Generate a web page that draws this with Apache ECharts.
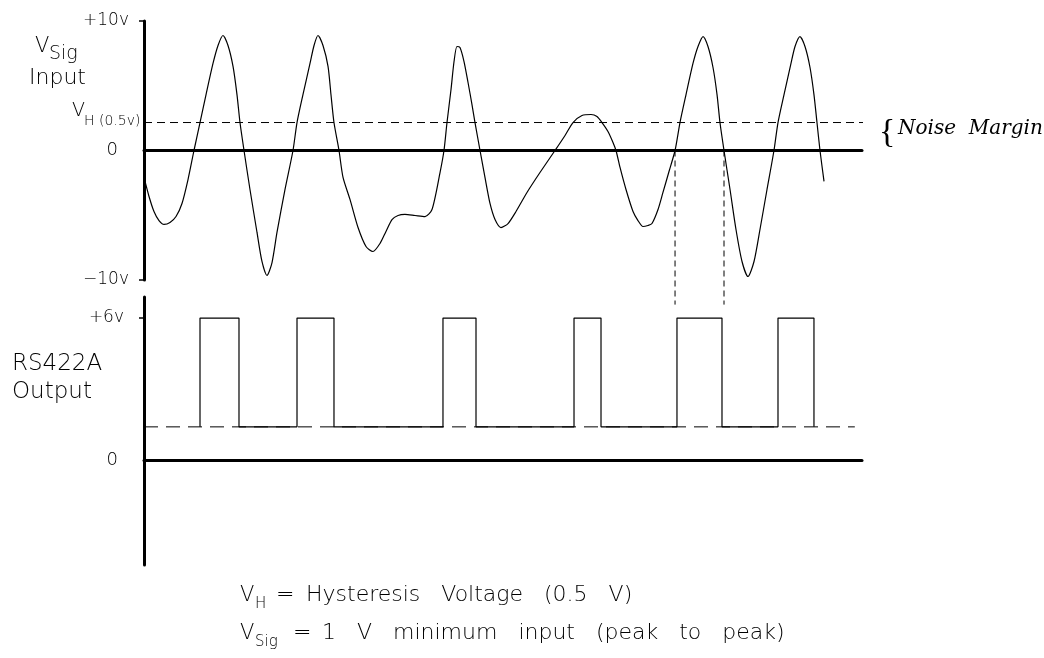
<!DOCTYPE html>
<html>
<head>
<meta charset="utf-8">
<script src="https://cdn.jsdelivr.net/npm/echarts@6/dist/echarts.min.js"></script>
<style>
html, body { margin: 0; width: 100%; height: 100%; background: #fff; }
#myChart { width: 1044px; height: 658px; }
</style>
</head>
<body>
<div id="myChart"></div>
<script>
// input signal (time 0..100, volts on the -10..+10 scale)
const inX = [0, 0.70, 1.39, 2.09, 2.79, 3.62, 4.46, 5.29, 6.13, 6.96,
  7.80, 8.64, 9.61, 10.31, 11.00, 11.70, 12.40, 12.95, 13.37, 13.93,
  14.76, 15.74, 16.43, 17.13, 17.83, 18.52, 19.64, 20.75,
  21.31, 22.14, 23.12, 23.68, 24.23, 24.93, 25.63, 26.04, 26.46, 27.16,
  27.72, 28.69, 29.81, 30.92, 31.89, 32.87, 33.70, 34.54, 35.38, 36.35, 37.74, 39.14, 40.11, 41.23, 41.78,
  42.20, 42.76, 43.18, 43.59, 44.01, 44.57, 45.13, 45.68, 46.10, 46.80,
  47.49, 48.19, 48.89, 49.72, 50.70, 51.81, 53.34, 55.15, 57.24,
  58.64, 59.75, 61.00, 62.26, 63.09, 63.79, 64.62, 65.32, 65.74,
  66.30, 67.13, 68.11, 68.80, 69.50, 70.19, 70.75, 71.59, 72.28, 73.12, 73.96,
  74.65, 75.49, 76.46, 77.16, 77.86, 78.55, 79.25, 79.81, 80.22, 80.78,
  81.62, 82.45, 83.29, 84.12, 84.96, 85.79, 86.77, 87.74,
  88.30, 89.14, 90.11, 90.67, 91.36, 92.06, 92.76, 93.31, 93.73, 94.15, 94.71];
const inY = [-2.08, -3.55, -4.71, -5.41, -5.71, -5.56, -5.10, -4.09, -2.24, 0,
  2.16, 4.32, 6.72, 8.11, 8.88, 8.11, 6.49, 4.32, 2.16, 0,
  -3.01, -6.33, -8.57, -9.65, -8.65, -6.33, -3.01, 0,
  2.16, 4.32, 6.72, 8.11, 8.88, 8.11, 6.49, 4.32, 2.16, 0,
  -2.08, -3.78, -5.95, -7.41, -7.80, -7.18, -6.25, -5.33, -5.02, -4.94, -5.02, -5.10, -4.56, -1.70, 0,
  2.16, 4.71, 6.87, 8.03, 7.95, 6.87, 5.25, 3.55, 2.16, 0,
  -2.08, -4.09, -5.33, -5.95, -5.64, -4.71, -3.24, -1.70, 0,
  1.16, 2.16, 2.70, 2.78, 2.63, 2.16, 1.47, 0.62, 0,
  -1.31, -3.01, -4.71, -5.41, -5.87, -5.79, -5.64, -4.56, -3.24, -1.62, 0,
  2.16, 4.32, 6.72, 8.03, 8.80, 8.03, 6.41, 4.32, 2.16, 0,
  -3.01, -6.10, -8.57, -9.73, -8.57, -6.10, -3.01, 0,
  2.16, 4.32, 6.72, 8.03, 8.80, 8.03, 6.41, 4.32, 2.16, 0, -2.39];

const vhLevel = 2.16;          // hysteresis threshold line
const markX = [73.96, 80.78];  // dashed guides from input to output
const markBottom = -11.9;

// RS422A output pulses
const pulseRise = [7.80, 21.31, 41.64, 59.89, 74.23, 88.30];
const pulseFall = [13.23, 26.46, 46.24, 63.65, 80.50, 93.31];
const outHigh = 6;
const outLow = 1.4;
const outDashEnd = 99.0;

// tick labels
const inTickVals = [-10, 0, 10];
const inTickText = ['−10v', '0', '+10v'];
const outTickVals = [0, 6];
const outTickText = ['0', '+6v'];

const FONT = 'DejaVu Sans';
const FW = 200;

const inputData = inX.map((x, i) => [x, inY[i]]);
const outputData = [];
pulseRise.forEach((r, i) => {
  outputData.push([r, outLow], [r, outHigh], [pulseFall[i], outHigh], [pulseFall[i], outLow]);
});

const tickFmt = (vals, texts) => (v) => {
  const t = texts[vals.indexOf(Math.round(v))];
  if (t === '0') return '{z|0}';
  if (t === '+6v') return '{s|+6v}';
  return '{a|' + t + '}';
};
const labelRich = {
  a: { fontSize: 17, fontFamily: FONT, fontWeight: FW, color: '#000' },
  z: { fontSize: 18, fontFamily: FONT, fontWeight: FW, color: '#000', padding: [0, 11, 0, 0] },
  s: { fontSize: 17, fontFamily: FONT, fontWeight: FW, color: '#000', padding: [0, 5, 0, 0] }
};

const txt = (x, y, text, size, extra) => ({
  type: 'text', left: x, top: y,
  style: Object.assign({ text: text, fontSize: size, fontFamily: FONT, fontWeight: FW, fill: '#000' }, extra || {})
});

const option = {
  backgroundColor: '#fff',
  animation: false,
  grid: [
    { left: 144, top: 21, width: 718, height: 259 },
    { left: 144, top: 297, width: 718, height: 268 }
  ],
  xAxis: [0, 1].map((g) => ({
    type: 'value', gridIndex: g, min: 0, max: 100,
    axisLine: { onZero: true, lineStyle: { color: '#000', width: 3 } },
    axisTick: { show: false }, axisLabel: { show: false }, splitLine: { show: false }
  })),
  yAxis: [
    {
      type: 'value', gridIndex: 0, min: -10, max: 10,
      axisLine: { show: true, onZero: false, lineStyle: { color: '#000', width: 3 } },
      axisTick: { show: true, customValues: [-10, 10], length: 5, lineStyle: { color: '#000', width: 1.5 } },
      axisLabel: { customValues: inTickVals, margin: 15, formatter: tickFmt(inTickVals, inTickText), rich: labelRich },
      splitLine: { show: false }
    },
    {
      type: 'value', gridIndex: 1, min: -4.44, max: 6.89,
      axisLine: { show: true, onZero: false, lineStyle: { color: '#000', width: 3 } },
      axisTick: { show: true, customValues: [6], length: 5, lineStyle: { color: '#000', width: 1.5 } },
      axisLabel: { customValues: outTickVals, margin: 15, formatter: tickFmt(outTickVals, outTickText), rich: labelRich },
      splitLine: { show: false }
    }
  ],
  series: [
    {
      name: 'input', type: 'line', xAxisIndex: 0, yAxisIndex: 0,
      data: inputData, smooth: 0.25, symbol: 'none',
      lineStyle: { color: '#000', width: 1.2 }
    },
    {
      name: 'vh', type: 'line', xAxisIndex: 0, yAxisIndex: 0, clip: false,
      data: [[0, vhLevel], [100.4, vhLevel]], symbol: 'none',
      lineStyle: { color: '#000', width: 1, type: [8, 5] }
    },
    ...markX.map((x) => ({
      type: 'line', xAxisIndex: 0, yAxisIndex: 0, clip: false,
      data: [[x, 0], [x, markBottom]], symbol: 'none',
      lineStyle: { color: '#000', width: 1, type: [6, 4] }
    })),
    {
      name: 'low', type: 'line', xAxisIndex: 1, yAxisIndex: 1,
      data: [[0, outLow], [outDashEnd, outLow]], symbol: 'none',
      lineStyle: { color: '#000', width: 1, type: [14, 8] }
    },
    {
      name: 'output', type: 'line', xAxisIndex: 1, yAxisIndex: 1,
      data: outputData, symbol: 'none',
      lineStyle: { color: '#000', width: 1.2 }
    }
  ],
  graphic: {
    elements: [
      txt(35, 36, 'V', 21),
      txt(49, 45, 'Sig', 19),
      txt(29, 67, 'Input', 22),
      txt(72, 102, 'V', 19),
      txt(84, 114, 'H (0.5v)', 14),
      txt(12, 353, 'RS422A', 23),
      txt(12, 381, 'Output', 23),
      txt(879, 116, '{', 34, { fontFamily: 'Liberation Serif', fontWeight: 'normal' }),
      txt(898, 119, 'Noise  Margin', 20, { fontFamily: 'DejaVu Serif', fontStyle: 'italic', fontWeight: 'normal' }),
      txt(240, 585, 'V', 21),
      txt(255, 597, 'H', 15),
      txt(276, 584, '=', 22),
      txt(306, 584, 'Hysteresis   Voltage   (0.5   V)', 22),
      txt(240, 623, 'V', 21),
      txt(255, 635, 'Sig', 15),
      txt(293, 622, '=', 22),
      txt(322, 622, '1   V   minimum   input   (peak   to   peak)', 22)
    ]
  }
};

const myChart = echarts.init(document.getElementById('myChart'));
myChart.setOption(option);
</script>
</body>
</html>
